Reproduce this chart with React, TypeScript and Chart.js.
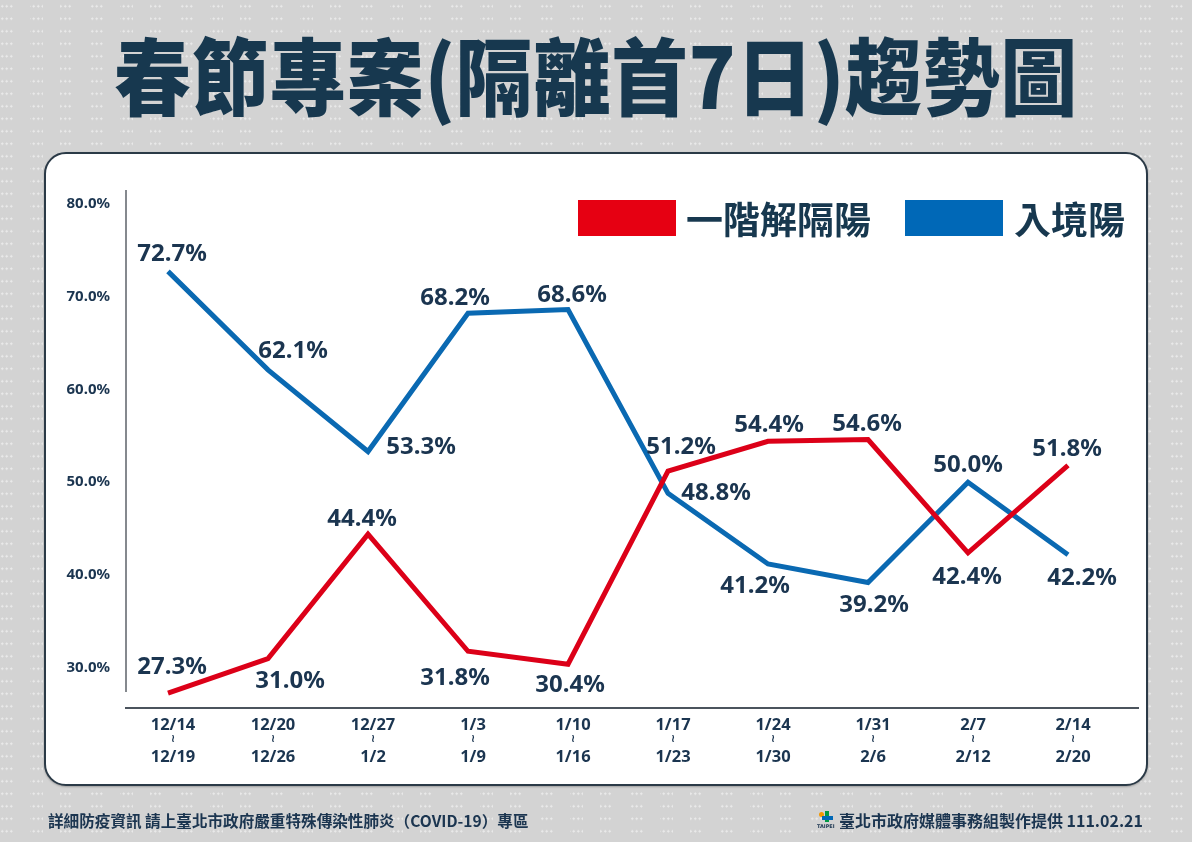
import React, { useEffect, useRef } from "react";
import { Chart, registerables } from "chart.js";

Chart.register(...registerables);

// ---- data ----
const CATEGORY_START = ["12/14", "12/20", "12/27", "1/3", "1/10", "1/17", "1/24", "1/31", "2/7", "2/14"];
const CATEGORY_END = ["12/19", "12/26", "1/2", "1/9", "1/16", "1/23", "1/30", "2/6", "2/12", "2/20"];
const LOCAL_VALUES = [27.3, 31.0, 44.4, 31.8, 30.4, 51.2, 54.4, 54.6, 42.4, 51.8];
const IMPORTED_VALUES = [72.7, 62.1, 53.3, 68.2, 68.6, 48.8, 41.2, 39.2, 50.0, 42.2];
const Y_TICKS = [30, 40, 50, 60, 70, 80];
const SERIES_NAMES = ["一階解隔陽", "入境陽"];

// ---- label placement (layout only) ----
const LOCAL_LABEL_OFFSETS = [[4, -28], [22, 21], [-6, -17], [-13, 25], [2, 19], [13, -26], [1, -18], [-1, -17], [-1, 23], [-1, -18]];
const IMPORTED_LABEL_OFFSETS = [[4, -19], [25, -20], [53, -6], [-13, -17], [4, -16], [48, -2], [-13, 21], [6, 21], [0, -19], [14, 22]];

const RED = "#dc0018";
const BLUE = "#0a69b2";
const NAVY = "#17384f";
const TEXT = "#1b3550";
const LABEL_SHIFT = 5;

const overlayPlugin = {
  id: "overlay",
  afterDatasetsDraw(chart: any) {
    const { ctx, chartArea, scales } = chart;
    const x = scales.x;
    const y = scales.y;
    ctx.save();
    // y axis line (stops above the x axis)
    ctx.strokeStyle = "#5d6268";
    ctx.lineWidth = 1.5;
    ctx.beginPath();
    ctx.moveTo(chartArea.left, chartArea.top);
    ctx.lineTo(chartArea.left, y.getPixelForValue(27.4));
    ctx.stroke();

    // value labels
    ctx.font = 'bold 24px "Noto Sans"';
    ctx.fillStyle = TEXT;
    ctx.textAlign = "center";
    ctx.textBaseline = "alphabetic";
    chart.data.datasets.forEach((ds: any, di: number) => {
      const meta = chart.getDatasetMeta(di);
      const offs = di === 0 ? LOCAL_LABEL_OFFSETS : IMPORTED_LABEL_OFFSETS;
      meta.data.forEach((pt: any, i: number) => {
        const v = ds.data[i].y as number;
        ctx.fillText(v.toFixed(1) + "%", pt.x + offs[i][0], pt.y + offs[i][1] + 8.5);
      });
    });

    // small wave between the two date lines
    ctx.font = 'bold 11px "DejaVu Sans"';
    ctx.textBaseline = "middle";
    x.ticks.forEach((_t: any, i: number) => {
      const px = x.getPixelForTick(i) + LABEL_SHIFT;
      ctx.fillText("≀", px, x.top + 31);
    });
    ctx.restore();
  },
};

function ChartCanvas() {
  const ref = useRef<HTMLCanvasElement | null>(null);
  useEffect(() => {
    if (!ref.current) return;
    const chart = new Chart(ref.current, {
      type: "line",
      data: {
        datasets: [
          {
            label: SERIES_NAMES[0],
            data: LOCAL_VALUES.map((v, i) => ({ x: i, y: v })),
            borderColor: RED,
            backgroundColor: RED,
            borderWidth: 5,
            pointRadius: 0,
            tension: 0,
            borderJoinStyle: "miter",
          },
          {
            label: SERIES_NAMES[1],
            data: IMPORTED_VALUES.map((v, i) => ({ x: i, y: v })),
            borderColor: BLUE,
            backgroundColor: BLUE,
            borderWidth: 5,
            pointRadius: 0,
            tension: 0,
            borderJoinStyle: "miter",
          },
        ],
      },
      options: {
        responsive: false,
        animation: false,
        events: [],
        layout: { padding: { top: 190, left: 0, right: 54, bottom: 74 } },
        plugins: { legend: { display: false }, tooltip: { enabled: false } },
        scales: {
          x: {
            type: "linear",
            min: -0.42,
            max: 9.7,
            afterBuildTicks: (s: any) => {
              s.ticks = CATEGORY_START.map((_c, i) => ({ value: i }));
            },
            afterFit: (s: any) => {
              s.height = 60;
            },
            grid: { display: false, drawTicks: false },
            border: { display: true, color: "#4b545d", width: 2 },
            ticks: {
              autoSkip: false,
              maxRotation: 0,
              padding: 1,
              labelOffset: LABEL_SHIFT,
              color: TEXT,
              font: { family: '"Noto Sans"', size: 16.5, weight: "bold", lineHeight: 1.95 },
              callback: (value: any) => [CATEGORY_START[value], CATEGORY_END[value]],
            },
          },
          y: {
            min: 25.69,
            max: 81.46,
            afterBuildTicks: (s: any) => {
              s.ticks = Y_TICKS.map((v) => ({ value: v }));
            },
            afterFit: (s: any) => {
              s.width = 126;
            },
            grid: { display: false, drawTicks: false },
            border: { display: false },
            ticks: {
              padding: 16,
              color: TEXT,
              font: { family: '"Noto Sans"', size: 15, weight: "bold" },
              callback: (value: any) => Number(value).toFixed(1) + "%",
            },
          },
        },
      },
      plugins: [overlayPlugin],
    } as any);
    return () => chart.destroy();
  }, []);
  return (
    <canvas
      ref={ref}
      width={1192}
      height={842}
      style={{ position: "absolute", left: 0, top: 0, width: 1192, height: 842 }}
    />
  );
}

export default function App() {
  const cjk = '"Noto Sans CJK TC", "Noto Sans", sans-serif';
  return (
    <div
      style={{
        position: "absolute",
        left: 0,
        top: 0,
        width: 1192,
        height: 842,
        overflow: "hidden",
        backgroundColor: "#d3d3d3",
        backgroundImage:
          "linear-gradient(90deg, rgba(211,211,211,0) 0px, rgba(211,211,211,0) 13px, #d3d3d3 13px, #d3d3d3 30px), radial-gradient(circle, #ececec 0.9px, rgba(236,236,236,0) 1.3px)",
        backgroundSize: "30px 100%, 4.5px 12.5px",
        fontFamily: cjk,
      }}
    >
      <div
        style={{
          position: "absolute",
          left: 0,
          top: 23,
          width: 1192,
          textAlign: "center",
          fontSize: 77,
          lineHeight: "100px",
          fontWeight: 900,
          color: NAVY,
          letterSpacing: 0.6,
          whiteSpace: "nowrap",
          transform: "scaleY(1.09)",
        }}
      >
        春節專案(隔離首7日)趨勢圖
      </div>
      <div
        style={{
          position: "absolute",
          left: 44,
          top: 152,
          width: 1104,
          height: 634,
          boxSizing: "border-box",
          background: "#ffffff",
          border: "2.5px solid #2b3a47",
          borderRadius: 22,
          boxShadow: "0 1px 2px rgba(0,0,0,0.25)",
        }}
      />
      <ChartCanvas />
      {/* legend */}
      <div style={{ position: "absolute", left: 578, top: 200, width: 98, height: 36, background: "#e60012" }} />
      <div
        style={{
          position: "absolute",
          left: 686,
          top: 200,
          height: 36,
          lineHeight: "36px",
          fontSize: 37,
          fontWeight: 700,
          color: NAVY,
          whiteSpace: "nowrap",
        }}
      >
        {SERIES_NAMES[0]}
      </div>
      <div style={{ position: "absolute", left: 905, top: 200, width: 98, height: 36, background: "#0068b7" }} />
      <div
        style={{
          position: "absolute",
          left: 1014,
          top: 200,
          height: 36,
          lineHeight: "36px",
          fontSize: 37,
          fontWeight: 700,
          color: NAVY,
          whiteSpace: "nowrap",
        }}
      >
        {SERIES_NAMES[1]}
      </div>
      {/* footer */}
      <div
        style={{
          position: "absolute",
          left: 48,
          top: 808,
          lineHeight: "24px",
          fontSize: 15.6,
          fontWeight: 700,
          color: TEXT,
          whiteSpace: "nowrap",
        }}
      >
        詳細防疫資訊 請上臺北市政府嚴重特殊傳染性肺炎（COVID-19）專區
      </div>
      <div
        style={{
          position: "absolute",
          right: 49,
          top: 807,
          lineHeight: "26px",
          fontSize: 16,
          fontWeight: 700,
          color: TEXT,
          whiteSpace: "nowrap",
          display: "flex",
          alignItems: "center",
        }}
      >
        <span style={{ position: "relative", display: "inline-block", width: 18, height: 20, marginRight: 4 }}>
          <span style={{ position: "absolute", left: 2, top: 2, width: 5, height: 5, background: "#f39800", borderRadius: 3 }} />
          <span style={{ position: "absolute", left: 8, top: 1, width: 4, height: 11, background: "#009944" }} />
          <span style={{ position: "absolute", left: 5, top: 6, width: 11, height: 4, background: "#0068b7" }} />
          <span style={{ position: "absolute", left: 0, top: 13, fontSize: 5, lineHeight: "6px", fontFamily: '"DejaVu Sans"', color: TEXT }}>
            TAIPEI
          </span>
        </span>
        臺北市政府媒體事務組製作提供 111.02.21
      </div>
    </div>
  );
}
